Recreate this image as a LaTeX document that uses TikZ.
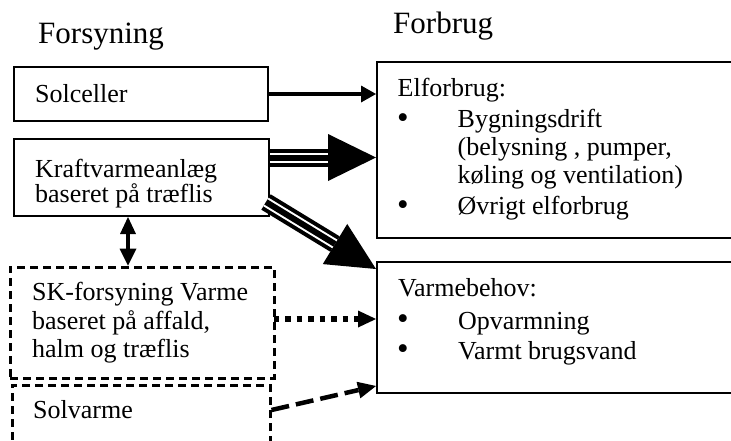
\documentclass[tikz,border=0pt]{standalone}
\usepackage{fontspec}
\setmainfont{Liberation Serif}
\usetikzlibrary{arrows.meta,calc}
\tikzset{
  box/.style={draw, line width=2pt, inner sep=0pt},
  dbox/.style={draw, line width=3pt, dash pattern=on 8pt off 5pt, inner sep=0pt},
  txt/.style={anchor=base west, inner sep=0pt, font=\fontsize{26}{28}\selectfont},
  ttl/.style={anchor=base west, inner sep=0pt, font=\fontsize{31}{33}\selectfont},
  bul/.style={anchor=base, inner sep=0pt, text height=12pt, text depth=0pt, font=\fontsize{33}{35}\selectfont},
  thinarrow/.style={line width=4pt, -{Triangle[length=15pt,width=17pt,line width=0pt]}},
  bidir/.style={line width=3.5pt, {Triangle[length=17pt,width=16pt,line width=0pt]}-{Triangle[length=17pt,width=17pt,line width=0pt]}},
  dotarrow/.style={line width=5.5pt, dash pattern=on 5.5pt off 6pt, -{Triangle[length=18pt,width=17pt,line width=0pt]}},
  dasharrow/.style={line width=4.5pt, dash pattern=on 18pt off 7pt, -{Triangle[length=18pt,width=17pt,line width=0pt]}},
  triple/.style={line width=18pt, postaction={draw=white, line width=10pt}, postaction={draw=black, line width=6pt}},
}
\begin{document}
\begin{tikzpicture}[x=1pt,y=-1pt]
\useasboundingbox (0,0) rectangle (731,440);
\clip (0,0) rectangle (731,440);
\fill[white] (0,0) rectangle (731,440);

% boxes
\node[box, minimum width=254pt, minimum height=54pt] (sol) at (141,94) {};
\node[box, minimum width=255pt, minimum height=77pt] (kv) at (141.5,177.5) {};
\node[dbox, minimum width=264pt, minimum height=111pt] (sk) at (142,322.5) {};
\node[dbox, minimum width=258pt, minimum height=100pt] (sv) at (141,435) {};
\node[box, minimum width=423pt, minimum height=176pt] (el) at (588.5,150) {};
\node[box, minimum width=423pt, minimum height=131pt] (vb) at (588.5,327.5) {};

% titles
\node[ttl] (t1) at (38,43) {Forsyning};
\node[ttl] (t2) at (393,33) {Forbrug};

% left texts
\node[txt] (s1) at (35,102) {Solceller};
\node[txt] (k1) at (35,177) {Kraftvarmeanlæg};
\node[txt] (k2) at (35,202) {baseret på træflis};
\node[txt] (f1) at (32,300.5) {SK-forsyning Varme};
\node[txt] (f2) at (32,329) {baseret på affald,};
\node[txt] (f3) at (32,357.5) {halm og træflis};
\node[txt] (v1) at (33,418) {Solvarme};

% right texts
\node[txt] (e0) at (397.5,96) {Elforbrug:};
\node[bul] (eb1) at (403,128) {•};
\node[txt] (e1) at (457.5,127.5) {Bygningsdrift};
\node[txt] (e2) at (457.5,155.5) {(belysning , pumper,};
\node[txt] (e3) at (457.5,183.5) {køling og ventilation)};
\node[bul] (eb2) at (403,215) {•};
\node[txt] (e4) at (457.5,214.5) {Øvrigt elforbrug};

\node[txt] (h0) at (398,296) {Varmebehov:};
\node[bul] (hb1) at (403,329.5) {•};
\node[txt] (h1) at (458,329) {Opvarmning};
\node[bul] (hb2) at (403,359.5) {•};
\node[txt] (h2) at (458,359) {Varmt brugsvand};

% connectors
\draw[thinarrow] (sol.east) -- (sol.east -| el.west);

\coordinate (ka) at ($(kv.east)+(0,-20)$);
\coordinate (kat) at (ka -| el.west);
\coordinate (kab) at ($(kat)!48pt!(ka)$);
\draw[triple] (ka) -- (kab);
\fill (kat) -- ($(kab)!23.5pt!90:(kat)$) -- ($(kab)!23.5pt!-90:(kat)$) -- cycle;

\coordinate (kb) at ($(kv.south east)+(-4,-15)$);
\coordinate (kbt) at ($(vb.north west)+(0,8)$);
\coordinate (kbb) at ($(kbt)!48pt!(kb)$);
\draw[triple] (kb) -- (kbb);
\fill (kbt) -- ($(kbb)!23.5pt!90:(kbt)$) -- ($(kbb)!23.5pt!-90:(kbt)$) -- cycle;

\coordinate (bd) at ($(kv.south)+(-13.5,0)$);
\draw[bidir] (bd) -- (bd |- sk.north);

\coordinate (da) at ($(sk.east)+(-2,-3.5)$);
\draw[dotarrow] (da) -- (da -| vb.west);

\coordinate (sa) at ($(sv.east)+(0,-25)$);
\draw[dasharrow] (sa) -- ($(vb.south west)+(0,-8)$);
\end{tikzpicture}
\end{document}
